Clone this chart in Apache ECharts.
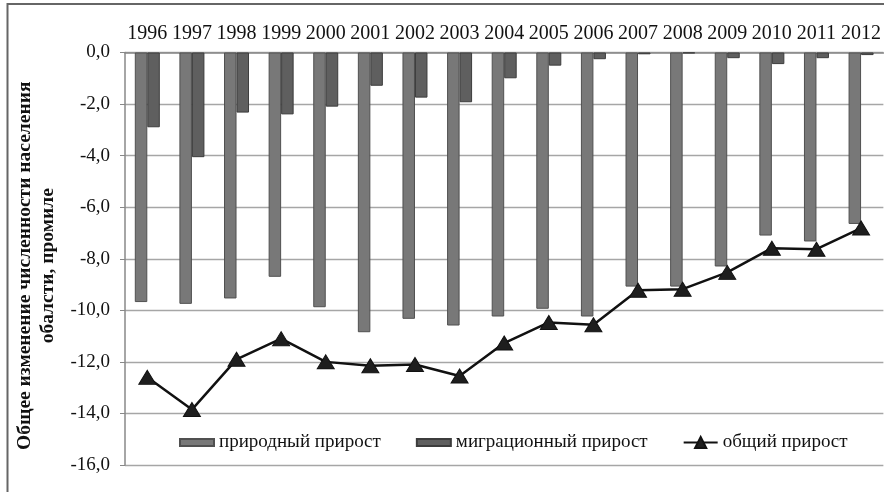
<!DOCTYPE html>
<html>
<head>
<meta charset="utf-8">
<script src="https://cdn.jsdelivr.net/npm/echarts@6/dist/echarts.min.js"></script>
<style>
  html, body { margin: 0; padding: 0; background: #fff; }
</style>
</head>
<body>
<div id="chart" style="width: 884px; height: 492px;"></div>
<script>
// годы
const years = ['1996', '1997', '1998', '1999', '2000', '2001', '2002', '2003', '2004',
  '2005', '2006', '2007', '2008', '2009', '2010', '2011', '2012'];
// природный прирост, промиле
const natural = [-9.68, -9.75, -9.54, -8.70, -9.88, -10.85, -10.33, -10.59, -10.24,
  -9.94, -10.24, -9.08, -9.08, -8.30, -7.10, -7.33, -6.65];
// миграционный прирост
const migration = [-2.90, -4.06, -2.33, -2.40, -2.10, -1.29, -1.75, -1.93, -1.00,
  -0.51, -0.26, -0.07, -0.03, -0.22, -0.45, -0.22, -0.10];
// общий прирост
const total = [-12.60, -13.85, -11.90, -11.10, -12.00, -12.15, -12.10, -12.55, -11.27,
  -10.47, -10.56, -9.22, -9.18, -8.53, -7.59, -7.63, -6.81];

const seriesNames = ['природный прирост', 'миграционный прирост', 'общий прирост'];
const yTitle = 'Общее изменение численности населения\nобалсти, промиле';

const font = 'Liberation Serif, Times New Roman, serif';
const barIcon = 'path://M0,0h34v7h-34z';

const myChart = echarts.init(document.getElementById('chart'));

const option = {
  backgroundColor: '#fff',
  animation: false,
  textStyle: { fontFamily: font },
  graphic: [
    {
      type: 'rect',
      silent: true,
      z: 0,
      shape: { x: 7.5, y: 4, width: 900, height: 520 },
      style: { fill: 'none', stroke: '#666', lineWidth: 2 }
    }
  ],
  grid: {
    left: 125,
    right: -2,
    top: 52.5,
    bottom: 27
  },
  legend: {
    left: 174,
    top: 428,
    itemWidth: 34,
    itemHeight: 14,
    itemGap: 35,
    textStyle: { fontFamily: font, fontSize: 19, color: '#111' },
    data: [
      { name: seriesNames[0], icon: barIcon },
      { name: seriesNames[1], icon: barIcon },
      { name: seriesNames[2] }
    ]
  },
  xAxis: {
    type: 'category',
    position: 'top',
    data: years,
    axisLine: { lineStyle: { color: '#888', width: 1.5 } },
    axisTick: { inside: true, length: 5, lineStyle: { color: '#888' } },
    axisLabel: {
      interval: 0,
      color: '#111',
      fontFamily: font,
      fontSize: 20,
      margin: 9
    },
    splitLine: { show: false }
  },
  yAxis: {
    type: 'value',
    min: -16,
    max: 0,
    interval: 2,
    name: yTitle,
    nameLocation: 'middle',
    nameRotate: 90,
    nameGap: 58,
    nameTextStyle: {
      fontFamily: font,
      fontSize: 19.5,
      fontWeight: 'bold',
      color: '#111',
      lineHeight: 23,
      padding: [0, 14, 0, 0]
    },
    axisLine: { show: true, lineStyle: { color: '#888', width: 1.5 } },
    axisTick: { show: true, length: 5, lineStyle: { color: '#888' } },
    axisLabel: {
      color: '#111',
      fontFamily: font,
      fontSize: 19,
      margin: 15,
      formatter: v => v.toFixed(1).replace('.', ',')
    },
    splitLine: { lineStyle: { color: '#a6a6a6', width: 1.3 } }
  },
  series: [
    {
      name: seriesNames[0],
      type: 'bar',
      data: natural,
      barWidth: 12.5,
      barGap: '0%',
      itemStyle: { color: '#787878', borderColor: '#505050', borderWidth: 1 }
    },
    {
      name: seriesNames[1],
      type: 'bar',
      data: migration,
      barWidth: 12.5,
      barGap: '0%',
      itemStyle: { color: '#5f5f5f', borderColor: '#3c3c3c', borderWidth: 1 }
    },
    {
      name: seriesNames[2],
      type: 'line',
      data: total,
      symbol: 'triangle',
      symbolSize: [17, 14],
      lineStyle: { color: '#111', width: 2.5 },
      itemStyle: { color: '#1e1e1e', borderColor: '#111', borderWidth: 1 },
      z: 5
    }
  ]
};

myChart.setOption(option);
</script>
</body>
</html>
